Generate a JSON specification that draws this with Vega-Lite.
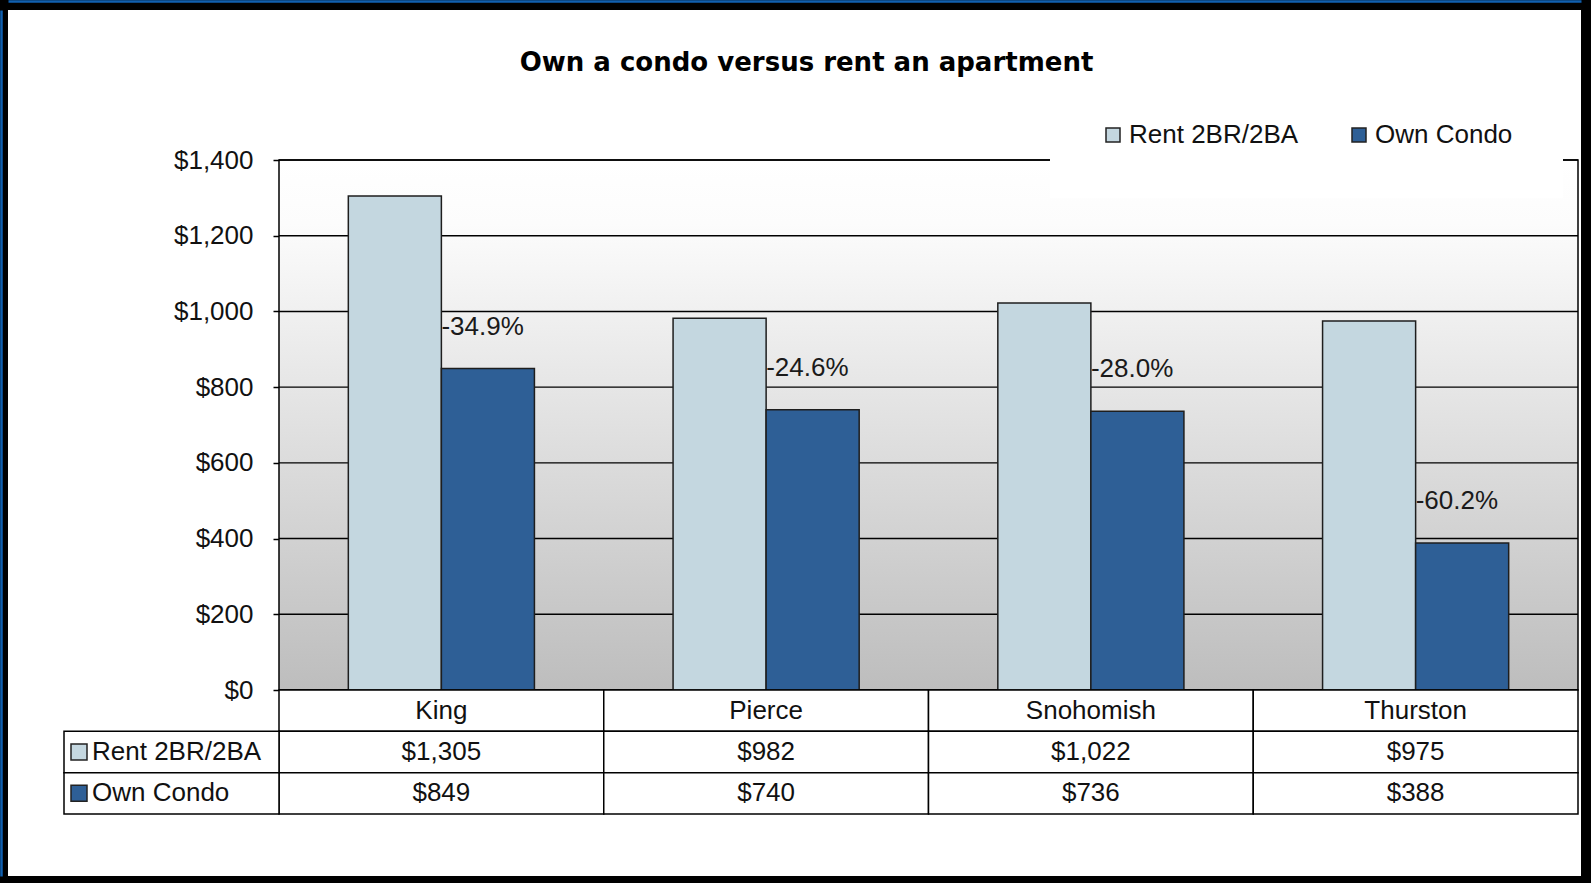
{
  "$schema": "https://vega.github.io/schema/vega-lite/v6.json",
  "width": 1573,
  "height": 866,
  "autosize": {"type": "none"},
  "padding": {"left": 8, "top": 10, "right": 10, "bottom": 7},
  "background": "#000000",
  "config": {
    "view": {"fill": "#ffffff", "stroke": null},
    "font": "Liberation Sans",
    "text": {"font": "Liberation Sans", "fontSize": 26, "color": "#111111"}
  },
  "title": {
    "text": "Own a condo versus rent an apartment",
    "orient": "top",
    "anchor": "middle",
    "frame": "group",
    "offset": -96,
    "baseline": "alphabetic",
    "dx": 12,
    "font": "DejaVu Sans",
    "fontSize": 26,
    "fontWeight": "bold",
    "color": "#000000"
  },
  "datasets": {
    "costs": [
      {"county": "King", "series": "Rent 2BR/2BA", "cost": 1305},
      {"county": "King", "series": "Own Condo", "cost": 849, "change": "-34.9%"},
      {"county": "Pierce", "series": "Rent 2BR/2BA", "cost": 982},
      {"county": "Pierce", "series": "Own Condo", "cost": 740, "change": "-24.6%"},
      {"county": "Snohomish", "series": "Rent 2BR/2BA", "cost": 1022},
      {"county": "Snohomish", "series": "Own Condo", "cost": 736, "change": "-28.0%"},
      {"county": "Thurston", "series": "Rent 2BR/2BA", "cost": 975},
      {"county": "Thurston", "series": "Own Condo", "cost": 388, "change": "-60.2%"}
    ],
    "grid": [{"v": 0}, {"v": 200}, {"v": 400}, {"v": 600}, {"v": 800}, {"v": 1000}, {"v": 1200}, {"v": 1400}],
    "counties": [{"county": "King"}, {"county": "Pierce"}, {"county": "Snohomish"}, {"county": "Thurston"}],
    "one": [{"plot": "area"}]
  },
  "resolve": {
    "scale": {"x": "independent", "y": "independent", "xOffset": "independent"},
    "axis": {"x": "independent", "y": "independent"}
  },
  "layer": [
    {
      "data": {"name": "one"},
      "mark": {
        "type": "rect",
        "stroke": "#000000",
        "strokeWidth": 1.5,
        "fill": {
          "gradient": "linear",
          "x1": 0, "y1": 0, "x2": 0, "y2": 1,
          "stops": [
            {"offset": 0, "color": "#ffffff"},
            {"offset": 0.12, "color": "#fcfcfc"},
            {"offset": 1, "color": "#bdbdbd"}
          ]
        }
      },
      "encoding": {
        "x": {"datum": 0, "type": "quantitative", "scale": {"type": "linear", "domain": [-0.208622, 1.002309], "nice": false, "zero": false}, "axis": null},
        "x2": {"datum": 1},
        "y": {"datum": 0, "type": "quantitative", "scale": {"type": "linear", "domain": [-491.32, 1796.23], "nice": false, "zero": false},
          "axis": {
            "orient": "left", "offset": -271, "values": [0, 200, 400, 600, 800, 1000, 1200, 1400],
            "format": "$,d", "domain": false, "grid": false, "ticks": true, "tickSize": 6, "tickColor": "#000000", "tickWidth": 1.5,
            "labelPadding": 20, "labelFont": "Liberation Sans", "labelFontSize": 26, "labelColor": "#111111",
            "labelBaseline": "middle", "title": null, "labelOverlap": false
          }
        },
        "y2": {"datum": 1400}
      }
    },
    {
      "data": {"name": "grid"},
      "mark": {"type": "rule", "color": "#000000", "strokeWidth": 1.4},
      "encoding": {
        "x": {"datum": 0, "type": "quantitative", "scale": {"type": "linear", "domain": [-0.208622, 1.002309], "nice": false, "zero": false},
          "axis": {"orient": "top", "offset": 9, "domain": true, "domainColor": "#1160b0", "domainWidth": 2.5, "ticks": false, "labels": false, "grid": false, "title": null}},
        "x2": {"datum": 1},
        "y": {"field": "v", "type": "quantitative", "scale": {"type": "linear", "domain": [-491.32, 1796.23], "nice": false, "zero": false},
          "axis": {"orient": "left", "offset": 7, "domain": true, "domainColor": "#1160b0", "domainWidth": 2.5, "ticks": false, "labels": false, "grid": false, "title": null}}
      }
    },
    {
      "data": {"name": "costs"},
      "mark": {"type": "bar", "stroke": "#1e1e1e", "strokeWidth": 1.5},
      "encoding": {
        "x": {"field": "county", "type": "nominal", "sort": null, "scale": {"type": "band", "domain": ["King", "Pierce", "Snohomish", "Thurston"], "paddingInner": 0, "paddingOuter": 0.421863, "align": 0.989051, "round": false}, "axis": null},
        "xOffset": {"field": "series", "type": "nominal", "scale": {"type": "band", "domain": ["Rent 2BR/2BA", "Own Condo"], "paddingInner": 0, "paddingOuter": 0.745, "align": 0.5}},
        "y": {"field": "cost", "type": "quantitative", "scale": {"type": "linear", "domain": [-491.32, 1796.23], "nice": false, "zero": false}, "axis": null},
        "y2": {"datum": 0},
        "color": {
          "field": "series", "type": "nominal",
          "scale": {"domain": ["Rent 2BR/2BA", "Own Condo"], "range": ["#c4d7e0", "#2e5f96"]},
          "legend": {
            "orient": "none", "legendX": 1042, "legendY": 62, "direction": "horizontal", "title": null,
            "symbolType": "square", "symbolSize": 196, "symbolStrokeColor": "#222222", "symbolStrokeWidth": 1.5, "symbolOpacity": 1,
            "labelFont": "Liberation Sans", "labelFontSize": 26, "labelColor": "#111111", "labelOffset": 3, "labelLimit": 400,
            "columnPadding": 47, "padding": 50, "fillColor": "#ffffff"
          }
        }
      }
    },
    {
      "data": {"name": "costs"},
      "transform": [{"filter": "datum.change != null"}],
      "mark": {"type": "text", "align": "left", "baseline": "middle", "dx": -46.5, "dy": -42, "fontSize": 26, "color": "#1a1a1a"},
      "encoding": {
        "x": {"field": "county", "type": "nominal", "sort": null, "scale": {"type": "band", "domain": ["King", "Pierce", "Snohomish", "Thurston"], "paddingInner": 0, "paddingOuter": 0.421863, "align": 0.989051, "round": false}, "axis": null},
        "xOffset": {"field": "series", "type": "nominal", "scale": {"type": "band", "domain": ["Rent 2BR/2BA", "Own Condo"], "paddingInner": 0, "paddingOuter": 0.745, "align": 0.5}},
        "y": {"field": "cost", "type": "quantitative", "scale": {"type": "linear", "domain": [-491.32, 1796.23], "nice": false, "zero": false}, "axis": null},
        "text": {"field": "change", "type": "nominal"}
      }
    },
    {
      "data": {"name": "counties"},
      "encoding": {
        "x": {"field": "county", "type": "nominal", "sort": null, "scale": {"type": "band", "domain": ["King", "Pierce", "Snohomish", "Thurston"], "paddingInner": 0, "paddingOuter": 0.421863, "align": 0.989051, "round": false}, "axis": null},
        "y": {"datum": "cat", "type": "nominal", "scale": {"type": "band", "domain": ["cat", "Rent 2BR/2BA", "Own Condo"], "paddingInner": 0, "paddingOuter": 0, "range": [680, 804], "round": false}, "axis": null}
      },
      "layer": [
        {"mark": {"type": "rect", "fill": "#ffffff", "stroke": "#000000", "strokeWidth": 1.5}},
        {"mark": {"type": "text", "align": "center", "baseline": "middle", "fontSize": 26, "color": "#111111"}, "encoding": {"text": {"field": "county", "type": "nominal"}}}
      ]
    },
    {
      "data": {"name": "costs"},
      "encoding": {
        "x": {"field": "county", "type": "nominal", "sort": null, "scale": {"type": "band", "domain": ["King", "Pierce", "Snohomish", "Thurston"], "paddingInner": 0, "paddingOuter": 0.421863, "align": 0.989051, "round": false}, "axis": null},
        "y": {"field": "series", "type": "nominal", "scale": {"type": "band", "domain": ["cat", "Rent 2BR/2BA", "Own Condo"], "paddingInner": 0, "paddingOuter": 0, "range": [680, 804], "round": false}, "axis": null}
      },
      "layer": [
        {"mark": {"type": "rect", "fill": "#ffffff", "stroke": "#000000", "strokeWidth": 1.5}},
        {"mark": {"type": "text", "align": "center", "baseline": "middle", "fontSize": 26, "color": "#111111"}, "encoding": {"text": {"field": "cost", "type": "quantitative", "format": "$,d"}}}
      ]
    },
    {
      "data": {"name": "costs"},
      "transform": [{"filter": "datum.county == 'King'"}],
      "encoding": {
        "x": {"datum": "lab", "type": "nominal", "scale": {"type": "band", "domain": ["lab"], "paddingInner": 0, "paddingOuter": 0, "range": [56, 271], "round": false}, "axis": null},
        "xOffset": {"datum": "key", "type": "nominal", "scale": {"type": "band", "domain": ["key"], "paddingInner": 0, "paddingOuter": 0, "range": [0, 30]}},
        "y": {"field": "series", "type": "nominal", "scale": {"type": "band", "domain": ["cat", "Rent 2BR/2BA", "Own Condo"], "paddingInner": 0, "paddingOuter": 0, "range": [680, 804], "round": false}, "axis": null}
      },
      "layer": [
        {"mark": {"type": "rect", "fill": "#ffffff", "stroke": "#000000", "strokeWidth": 1.5}, "encoding": {"xOffset": {"value": 0}}},
        {
          "mark": {"type": "point", "shape": "square", "size": 256, "filled": true, "stroke": "#222222", "strokeWidth": 1.5, "opacity": 1},
          "encoding": {"fill": {"field": "series", "type": "nominal", "scale": {"domain": ["Rent 2BR/2BA", "Own Condo"], "range": ["#c4d7e0", "#2e5f96"]}, "legend": null}}
        },
        {"mark": {"type": "text", "align": "left", "baseline": "middle", "dx": 13, "fontSize": 26, "color": "#111111"}, "encoding": {"text": {"field": "series", "type": "nominal"}}}
      ]
    }
  ]
}
